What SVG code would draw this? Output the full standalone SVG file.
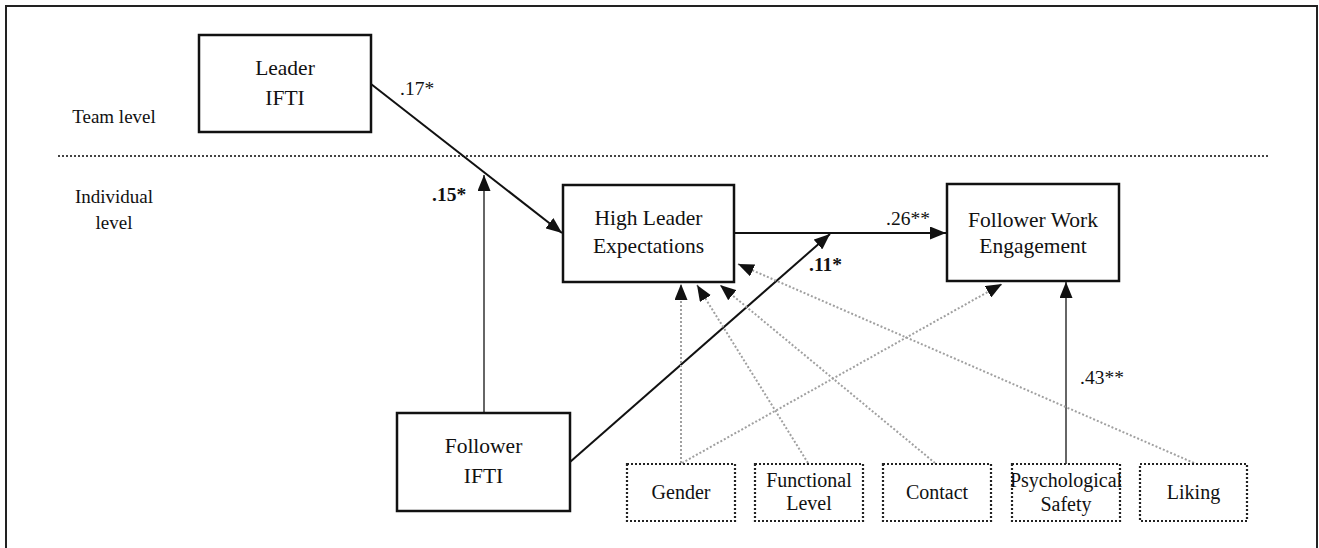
<svg xmlns="http://www.w3.org/2000/svg" width="1319" height="548" viewBox="0 0 1319 548">
<style>
  text { font-family: "Liberation Serif", "Times New Roman", serif; fill: #111; text-anchor: middle; }
  .node { fill: #fff; stroke: #111; stroke-width: 2.5; }
  .ctrl { fill: #fff; stroke: #222; stroke-width: 2.2; stroke-dasharray: 2 2; }
  .main { font-size: 21.5px; }
  .side { font-size: 19px; }
  .small { font-size: 20px; }
  .lab { font-size: 19.5px; text-anchor: start; }
  .bold { font-weight: bold; }
  .solid { stroke: #111; stroke-width: 2; fill: none; }
  .thin { stroke: #333; stroke-width: 1.5; fill: none; }
  .dot { stroke: #a0a0a0; stroke-width: 2; stroke-dasharray: 2 2; fill: none; }
</style>
<defs>
  <marker id="ah" markerUnits="userSpaceOnUse" markerWidth="18" markerHeight="13" refX="16" refY="6.5" orient="auto">
    <path d="M0,0 L16,6.5 L0,13 z" fill="#111"/>
  </marker>
</defs>
<rect width="1319" height="548" fill="#fff"/>
<path d="M6,548 L6,6 L1317,6 L1317,548" fill="none" stroke="#222" stroke-width="2"/>
<line x1="58" y1="156" x2="1268" y2="156" stroke="#444" stroke-width="2" stroke-dasharray="2 2"/>
<g id="labels-level">
  <text class="side" x="114" y="123">Team level</text>
  <text class="side" x="114" y="203">Individual</text>
  <text class="side" x="114" y="229">level</text>
</g>
<g id="connectors">
  <line class="solid" x1="371" y1="84" x2="562" y2="233" marker-end="url(#ah)"/>
  <line class="thin" x1="484" y1="413" x2="484" y2="175" marker-end="url(#ah)"/>
  <line class="solid" x1="734" y1="233" x2="946" y2="233" marker-end="url(#ah)"/>
  <line class="solid" x1="570" y1="462" x2="830" y2="234" marker-end="url(#ah)"/>
  <line class="thin" x1="1066" y1="464" x2="1066" y2="282" marker-end="url(#ah)"/>
  <line class="dot" x1="681" y1="463" x2="681" y2="284" marker-end="url(#ah)"/>
  <line class="dot" x1="682" y1="463" x2="1002" y2="284" marker-end="url(#ah)"/>
  <line class="dot" x1="808" y1="463" x2="697" y2="285" marker-end="url(#ah)"/>
  <line class="dot" x1="935" y1="463" x2="720" y2="285" marker-end="url(#ah)"/>
  <line class="dot" x1="1194" y1="463" x2="738" y2="264" marker-end="url(#ah)"/>
  <text class="lab" x="400" y="95">.17*</text>
  <text class="lab bold" x="432" y="201">.15*</text>
  <text class="lab" x="886" y="225">.26**</text>
  <text class="lab bold" x="809" y="271">.11*</text>
  <text class="lab" x="1080" y="384">.43**</text>
</g>
<g id="leader-ifti">
  <rect class="node" x="199" y="35" width="172" height="97"/>
  <text class="main" x="285" y="75">Leader</text>
  <text class="main" x="285" y="105">IFTI</text>
</g>
<g id="high-leader-expectations">
  <rect class="node" x="563" y="185" width="171" height="97"/>
  <text class="main" x="648.5" y="225">High Leader</text>
  <text class="main" x="648.5" y="253">Expectations</text>
</g>
<g id="follower-work-engagement">
  <rect class="node" x="947" y="184" width="172" height="97"/>
  <text class="main" x="1033" y="227">Follower Work</text>
  <text class="main" x="1033" y="253">Engagement</text>
</g>
<g id="follower-ifti">
  <rect class="node" x="397" y="413" width="173" height="98"/>
  <text class="main" x="483.5" y="453">Follower</text>
  <text class="main" x="483.5" y="483">IFTI</text>
</g>
<g id="gender">
  <rect class="ctrl" x="627" y="464" width="108" height="57"/>
  <text class="small" x="681" y="499">Gender</text>
</g>
<g id="functional-level">
  <rect class="ctrl" x="755" y="464" width="108" height="57"/>
  <text class="small" x="809" y="487">Functional</text>
  <text class="small" x="809" y="510">Level</text>
</g>
<g id="contact">
  <rect class="ctrl" x="883" y="464" width="108" height="57"/>
  <text class="small" x="937" y="499">Contact</text>
</g>
<g id="psychological-safety">
  <rect class="ctrl" x="1012" y="464" width="108" height="57"/>
  <text class="small" x="1066" y="487">Psychological</text>
  <text class="small" x="1066" y="511">Safety</text>
</g>
<g id="liking">
  <rect class="ctrl" x="1140" y="464" width="107" height="57"/>
  <text class="small" x="1193.5" y="499">Liking</text>
</g>
</svg>
